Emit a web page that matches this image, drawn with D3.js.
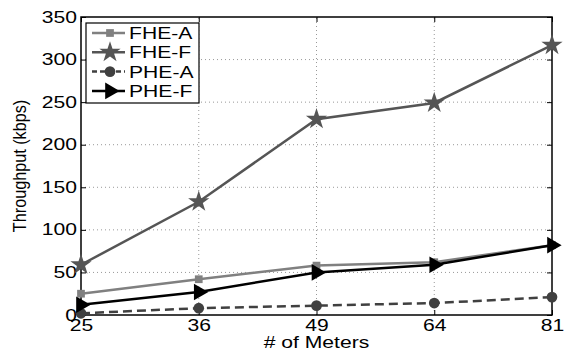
<!DOCTYPE html>
<html>
<head>
<meta charset="utf-8">
<script src="https://cdn.jsdelivr.net/npm/d3@7"></script>
<style>
  body { margin: 0; background: #fff; }
  text { font-family: "Liberation Sans", Arial, sans-serif; }
</style>
</head>
<body>
<script>
// data
const meters = [25, 36, 49, 64, 81];
const fheA = [25, 42, 58, 62, 82];
const fheF = [59, 133, 230, 249, 317];
const pheA = [2, 8, 11, 14, 21];
const pheF = [12, 27, 50, 59, 82];
const yTicks = [0, 50, 100, 150, 200, 250, 300, 350];

const series = [
  { name: 'FHE-A', values: fheA, color: '#808080', dash: null, marker: 'square' },
  { name: 'FHE-F', values: fheF, color: '#555555', dash: null, marker: 'star' },
  { name: 'PHE-A', values: pheA, color: '#404040', dash: '9,5', marker: 'circle' },
  { name: 'PHE-F', values: pheF, color: '#000000', dash: null, marker: 'triangle' }
];

const w = 564, h = 354;
const m = { top: 17, right: 12, bottom: 39, left: 81 };
const sx = 1.32; // the original figure is stretched sideways

const svg = d3.select('body').append('svg')
  .attr('width', w)
  .attr('height', h);

const x = d3.scalePoint().domain(meters).range([m.left, w - m.right]);
const y = d3.scaleLinear().domain([0, 350]).range([h - m.bottom, m.top]);

// dotted grid
const grid = svg.append('g').attr('stroke', '#999').attr('stroke-dasharray', '1,3').attr('stroke-width', 1);
grid.selectAll('.gx').data(meters.slice(1, -1)).join('line')
  .attr('x1', d => x(d)).attr('x2', d => x(d))
  .attr('y1', y(0)).attr('y2', y(350));
grid.selectAll('.gy').data(yTicks.slice(1, -1)).join('line')
  .attr('x1', x(25)).attr('x2', x(81))
  .attr('y1', d => y(d)).attr('y2', d => y(d));

// axes, matlab style ticks inside
const tickLen = 5;
svg.append('g')
  .attr('transform', `translate(0,${y(0)})`)
  .call(d3.axisBottom(x).tickSizeInner(-tickLen).tickSizeOuter(0).tickPadding(5))
  .call(g => g.select('.domain').remove())
  .call(g => g.selectAll('text').attr('font-size', 16).attr('fill', '#000')
    .attr('transform', `scale(${sx},1)`));
svg.append('g')
  .attr('transform', `translate(0,${y(350)})`)
  .call(d3.axisTop(x).tickSizeInner(-tickLen).tickSizeOuter(0).tickFormat(''))
  .call(g => g.select('.domain').remove());
svg.append('g')
  .attr('transform', `translate(${x(25)},0)`)
  .call(d3.axisLeft(y).tickValues(yTicks).tickSizeInner(-tickLen).tickSizeOuter(0))
  .call(g => g.select('.domain').remove())
  .call(g => g.selectAll('text').attr('font-size', 16).attr('fill', '#000')
    .attr('x', -4 / sx).attr('transform', `scale(${sx},1)`));
svg.append('g')
  .attr('transform', `translate(${x(81)},0)`)
  .call(d3.axisRight(y).tickValues(yTicks).tickSizeInner(-tickLen).tickSizeOuter(0).tickFormat(''))
  .call(g => g.select('.domain').remove());

svg.append('rect')
  .attr('x', x(25)).attr('y', y(350))
  .attr('width', x(81) - x(25)).attr('height', y(0) - y(350))
  .attr('fill', 'none').attr('stroke', '#000').attr('stroke-width', 1.5);

// axis titles
svg.append('text')
  .attr('transform', `translate(${(x(25) + x(81)) / 2},348) scale(${sx},1)`)
  .attr('text-anchor', 'middle').attr('font-size', 16)
  .text('# of Meters');
svg.append('text')
  .attr('transform', `translate(26,${(y(0) + y(350)) / 2}) rotate(-90) scale(1.08,1.2)`)
  .attr('text-anchor', 'middle').attr('font-size', 15)
  .text('Throughput (kbps)');

const symbols = {
  square: d3.symbol(d3.symbolSquare, 60),
  star: d3.symbol(d3.symbolStar, 140),
  circle: d3.symbol(d3.symbolCircle, 90),
  triangle: d3.symbol(d3.symbolTriangle, 120)
};
function drawMarker(g, s) {
  const p = g.append('path').attr('d', symbols[s.marker]()).attr('fill', s.color);
  if (s.marker === 'triangle') p.attr('transform', 'rotate(90)');
  return p;
}

const line = d3.line().x((d, i) => x(meters[i])).y(d => y(d));
const plot = svg.append('g');
series.forEach(s => {
  plot.append('path')
    .attr('d', line(s.values))
    .attr('fill', 'none')
    .attr('stroke', s.color)
    .attr('stroke-width', 2.5)
    .attr('stroke-dasharray', s.dash);
  s.values.forEach((v, i) => {
    const g = plot.append('g').attr('transform', `translate(${x(meters[i])},${y(v)})`);
    drawMarker(g, s);
  });
});

// legend
const leg = svg.append('g').attr('transform', 'translate(86,23)');
leg.append('rect')
  .attr('width', 113).attr('height', 80)
  .attr('fill', '#fff').attr('stroke', '#000').attr('stroke-width', 1.2);
series.forEach((s, i) => {
  const row = leg.append('g').attr('transform', `translate(0,${10 + i * 19.3})`);
  row.append('line')
    .attr('x1', 6).attr('x2', 39)
    .attr('stroke', s.color).attr('stroke-width', 2.5)
    .attr('stroke-dasharray', s.dash ? '5,3' : null);
  const mg = row.append('g').attr('transform', 'translate(24,0)');
  drawMarker(mg, s);
  row.append('text')
    .attr('transform', `translate(43,6) scale(${sx},1)`)
    .attr('font-size', 16)
    .text(s.name);
});
</script>
</body>
</html>
